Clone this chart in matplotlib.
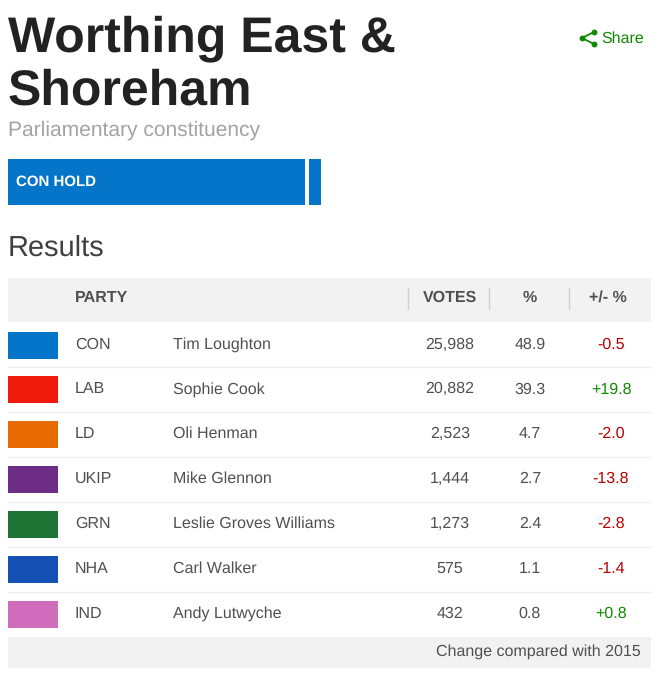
import matplotlib
matplotlib.use('Agg')
import matplotlib.pyplot as plt
from matplotlib.patches import Rectangle

plt.rcParams['font.family'] = ['Liberation Sans', 'DejaVu Sans']
plt.rcParams['text.hinting'] = 'none'
plt.rcParams['text.hinting_factor'] = 1

parties = ['CON', 'LAB', 'LD', 'UKIP', 'GRN', 'NHA', 'IND']
candidates = ['Tim Loughton', 'Sophie Cook', 'Oli Henman', 'Mike Glennon',
              'Leslie Groves Williams', 'Carl Walker', 'Andy Lutwyche']
votes = ['25,988', '20,882', '2,523', '1,444', '1,273', '575', '432']
shares = ['48.9', '39.3', '4.7', '2.7', '2.4', '1.1', '0.8']
changes = ['-0.5', '+19.8', '-2.0', '-13.8', '-2.8', '-1.4', '+0.8']
colours = ['#0575c9', '#f01a0c', '#e86a03', '#6d2c85', '#1e7335', '#1450b4', '#d06cbc']
headers = ['VOTES', '%', '+/- %']

BLUE = '#0575c9'
GREY = '#f2f2f2'
TEXT = '#505050'
RED = '#b80000'
GREEN = '#108a00'

fig = plt.figure(figsize=(6.63, 6.8), dpi=100)
ax = fig.add_axes([0, 0, 1, 1])
ax.set_xlim(0, 663)
ax.set_ylim(680, 0)
ax.axis('off')

# heading
ax.text(8, 51, 'Worthing East &', fontsize=36, fontweight='bold', color='#222222', va='baseline')
ax.text(8, 104.5, 'Shoreham', fontsize=36, fontweight='bold', color='#222222', va='baseline')
ax.text(8, 135.5, 'Parliamentary constituency', fontsize=14.85, color='#a3a3a3', va='baseline')

# share icon
ax.plot([594, 582, 594], [32, 38, 44], color=GREEN, lw=1.3)
ax.scatter([594, 582, 594], [32, 38, 44], s=18, color=GREEN, zorder=3, linewidths=0)
ax.text(601, 43, 'Share', fontsize=11.3, color=GREEN, va='baseline')

# result banner
ax.add_patch(Rectangle((8, 159), 297, 46, color=BLUE, lw=0))
ax.add_patch(Rectangle((309, 159), 12, 46, color=BLUE, lw=0))
ax.text(16, 186, 'CON HOLD', fontsize=10.6, fontweight='bold', color='white', va='baseline')

ax.text(8, 255.5, 'Results', fontsize=21.2, color='#404040', va='baseline')

# table header
ax.add_patch(Rectangle((8, 278), 643, 44, color=GREY, lw=0))
ax.text(75, 302, 'PARTY', fontsize=11.3, fontweight='bold', color=TEXT, va='baseline')
for x, label in zip([450, 530, 608], headers):
    ax.text(x, 302, label, fontsize=11.3, fontweight='bold', color=TEXT, va='baseline', ha='center')
for x in [408, 489, 569]:
    ax.plot([x, x], [288, 309], color='#d0d0d0', lw=1)

# rows
for i in range(len(parties)):
    y = 344.5 + i * 44.9
    ax.add_patch(Rectangle((8, y - 13), 50, 27, color=colours[i], lw=0))
    ax.text(75, y + 4, parties[i], fontsize=11.3, color=TEXT, va='baseline')
    ax.text(173, y + 4, candidates[i], fontsize=11.3, color=TEXT, va='baseline')
    ax.text(450, y + 4, votes[i], fontsize=11.3, color=TEXT, va='baseline', ha='center')
    ax.text(530, y + 4, shares[i], fontsize=11.3, color=TEXT, va='baseline', ha='center')
    col = GREEN if changes[i].startswith('+') else RED
    ax.text(611, y + 4, changes[i], fontsize=11.3, color=col, va='baseline', ha='center')
    if i < len(parties) - 1:
        ax.plot([8, 651], [y + 22.5, y + 22.5], color='#efefef', lw=1)

# footer
ax.add_patch(Rectangle((8, 637), 643, 31, color=GREY, lw=0))
ax.text(641, 656, 'Change compared with 2015', fontsize=11.3, color=TEXT, va='baseline', ha='right')

fig.savefig('out.png', dpi=100)
